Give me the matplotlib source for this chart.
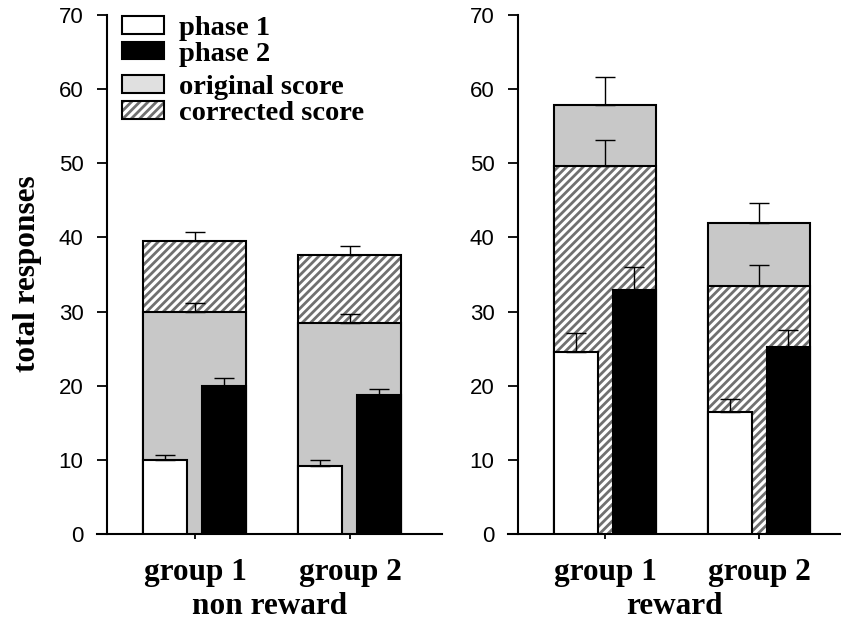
import numpy as np
import matplotlib
matplotlib.use('Agg')
import matplotlib.pyplot as plt
from matplotlib.patches import Patch
from matplotlib.legend_handler import HandlerTuple

# ---- data ----
groups = ['group 1', 'group 2']
conditions = ['non reward', 'reward']

nr_original = [29.9, 28.4]
nr_original_err = [1.2, 1.3]
nr_corrected = [39.5, 37.6]
nr_corrected_err = [1.2, 1.2]
nr_phase1 = [10.0, 9.2]
nr_phase1_err = [0.6, 0.8]
nr_phase2 = [19.9, 18.7]
nr_phase2_err = [1.1, 0.9]

rw_original = [57.9, 41.9]
rw_original_err = [3.8, 2.8]
rw_corrected = [49.6, 33.4]
rw_corrected_err = [3.6, 2.9]
rw_phase1 = [24.6, 16.4]
rw_phase1_err = [2.5, 1.8]
rw_phase2 = [32.9, 25.2]
rw_phase2_err = [3.1, 2.3]

panels = [
    (nr_original, nr_original_err, nr_corrected, nr_corrected_err,
     nr_phase1, nr_phase1_err, nr_phase2, nr_phase2_err),
    (rw_original, rw_original_err, rw_corrected, rw_corrected_err,
     rw_phase1, rw_phase1_err, rw_phase2, rw_phase2_err),
]

# ---- style ----
GRAY = '#c8c8c8'
HATCH_GRAY = '#707070'
HATCH = '////'
SERIF = ['Liberation Serif', 'DejaVu Serif']
plt.rcParams['font.family'] = ['Liberation Sans', 'DejaVu Sans']
plt.rcParams['hatch.linewidth'] = 2.0

WIDE = 0.665
NARROW = 0.284
EDGE_LW = 1.5

fig = plt.figure(figsize=(8.41, 6.24), dpi=100)
ax_pos = [[97 / 841, 90 / 624, 345 / 841, 519 / 624],
          [508 / 841, 90 / 624, 333 / 841, 519 / 624]]
xlims = [(0.368, 2.594), (0.37, 2.532)]

x = np.arange(1, len(groups) + 1)


def err_bars(ax, xs, ys, es, z):
    ax.errorbar(xs, ys, yerr=[np.zeros(len(es)), es], fmt='none',
                ecolor='black', elinewidth=1.0, capsize=7, capthick=1.0,
                zorder=z)


def gray_bar(ax, xs, ys, z):
    ax.bar(xs, ys, WIDE, color=GRAY, edgecolor='black', linewidth=EDGE_LW,
           zorder=z)


def hatch_bar(ax, xs, ys, z):
    ax.bar(xs, ys, WIDE, color='white', edgecolor=HATCH_GRAY, hatch=HATCH,
           linewidth=0, zorder=z)
    ax.bar(xs, ys, WIDE, fill=False, edgecolor='black', linewidth=EDGE_LW,
           zorder=z)


axes = []
for i, (orig, orig_e, corr, corr_e, p1, p1_e, p2, p2_e) in enumerate(panels):
    ax = fig.add_axes(ax_pos[i])
    axes.append(ax)

    for j in range(len(groups)):
        xs = [x[j]]
        # the taller score bar sits behind the shorter one
        if orig[j] >= corr[j]:
            gray_bar(ax, xs, [orig[j]], 2)
            err_bars(ax, xs, [orig[j]], [orig_e[j]], 2.5)
            hatch_bar(ax, xs, [corr[j]], 3)
            err_bars(ax, xs, [corr[j]], [corr_e[j]], 3.5)
        else:
            hatch_bar(ax, xs, [corr[j]], 2)
            err_bars(ax, xs, [corr[j]], [corr_e[j]], 2.5)
            gray_bar(ax, xs, [orig[j]], 3)
            err_bars(ax, xs, [orig[j]], [orig_e[j]], 3.5)

    off = WIDE / 2 - NARROW / 2
    ax.bar(x - off, p1, NARROW, color='white', edgecolor='black',
           linewidth=EDGE_LW, zorder=4)
    err_bars(ax, x - off, p1, p1_e, 4.5)
    ax.bar(x + off, p2, NARROW, color='black', edgecolor='black',
           linewidth=EDGE_LW, zorder=4)
    err_bars(ax, x + off, p2, p2_e, 4.5)

    ax.set_xlim(*xlims[i])
    ax.set_ylim(0, 70)
    ax.set_yticks(np.arange(0, 71, 10))
    ax.set_xticks(x)
    ax.set_xticklabels(groups, fontfamily=SERIF, fontweight='bold', fontsize=22.5)
    ax.set_xlabel(conditions[i], fontfamily=SERIF, fontweight='bold',
                  fontsize=22.5, labelpad=3.5)
    ax.tick_params(axis='y', length=7, width=1.3, pad=10, labelsize=16)
    ax.tick_params(axis='x', length=3.5, width=1.3, pad=14)

    for s in ['top', 'right']:
        ax.spines[s].set_visible(False)
    for s in ['left', 'bottom']:
        ax.spines[s].set_linewidth(1.5)
    ax.spines['left'].set_position(('axes', 10 / ax_pos[i][2] / 841))
    ax.spines['left'].set_bounds(0, 70)
    ax.set_facecolor('none')

axes[0].set_ylabel('total responses', fontfamily=SERIF, fontweight='bold',
                   fontsize=22.5, va='center')
axes[0].yaxis.set_label_coords(-0.2, 0.501)

# ---- legend in two blocks ----
h_p1 = Patch(facecolor='white', edgecolor='black', linewidth=EDGE_LW)
h_p2 = Patch(facecolor='black', edgecolor='black', linewidth=EDGE_LW)
h_or = Patch(facecolor='#e0e0e0', edgecolor='black', linewidth=EDGE_LW)
h_co = (Patch(facecolor='white', edgecolor=HATCH_GRAY, hatch=HATCH, linewidth=0),
        Patch(fill=False, edgecolor='black', linewidth=EDGE_LW))

leg_kw = dict(loc='upper left', frameon=False, borderpad=0, borderaxespad=0,
              handlelength=1.47, handleheight=0.58, handletextpad=0.54,
              labelspacing=0.02,
              prop={'family': SERIF, 'weight': 'bold', 'size': 20.5},
              handler_map={tuple: HandlerTuple(ndivide=1, pad=0)})
leg1 = axes[0].legend([h_p1, h_p2], ['phase 1', 'phase 2'],
                      bbox_to_anchor=(0.0725, 0.998), **leg_kw)
axes[0].add_artist(leg1)
axes[0].legend([h_or, h_co], ['original score', 'corrected score'],
               bbox_to_anchor=(0.0725, 0.884), **leg_kw)

fig.savefig('out.png', dpi=100)
